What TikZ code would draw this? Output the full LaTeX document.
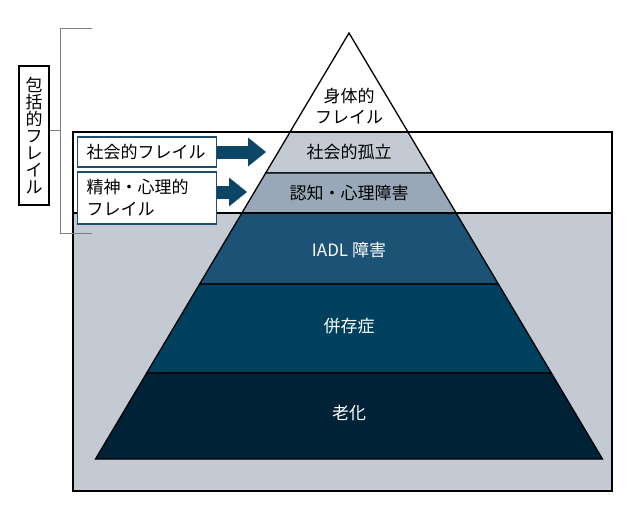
\documentclass[tikz,border=0pt]{standalone}
\usepackage{fontspec}
\setmainfont{Noto Sans CJK JP}
\usetikzlibrary{arrows.meta,positioning,calc}

\definecolor{bggray}{HTML}{C3CAD3}
\definecolor{cogngray}{HTML}{98A8B8}
\definecolor{iadlblue}{HTML}{1B5276}
\definecolor{comorbblue}{HTML}{00405F}
\definecolor{agingnavy}{HTML}{002236}
\definecolor{boxteal}{HTML}{1F4E6B}
\definecolor{arrowteal}{HTML}{0B4666}

\tikzset{
    jp/.style={font=\fontsize{17}{20}\selectfont},
    band/.style={draw=black, line width=1.3pt},
    frailbox/.style={jp, draw=boxteal, line width=1.5pt, fill=white, inner xsep=9pt,
        text width=121pt, align=left, minimum height=#1},
    bigarrow/.style={arrowteal, line width=13pt,
        -{Triangle[length=18pt, width=29pt, line width=0pt]}},
    bracket/.style={draw=gray, line width=0.8pt}
}

\begin{document}
\begin{tikzpicture}[x=1pt, y=-1pt]
    \useasboundingbox (0,0) rectangle (640,506);

    % Background frame
    \fill[white] (73,132) rectangle (612,213);
    \fill[bggray] (73,213) rectangle (612,491);

    % Pyramid (apex at 349/33, half width grows by 0.595 per unit)
    \filldraw[band, fill=white] (349,33) -- (290,132) -- (408,132) -- cycle;
    \foreach \ya/\yb/\col in {132/173/bggray, 173/213/cogngray, 213/284/iadlblue,
                              284/373/comorbblue, 373/459/agingnavy} {
        \pgfmathsetmacro{\xa}{0.595*(\ya-33)}
        \pgfmathsetmacro{\xb}{0.595*(\yb-33)}
        \filldraw[band, fill=\col] (349-\xa,\ya) -- (349+\xa,\ya)
            -- (349+\xb,\yb) -- (349-\xb,\yb) -- cycle;
    }

    % Band labels
    \node[jp, align=center, font=\fontsize{17}{21}\selectfont] (body) at (349,106)
        {身体的\\フレイル};
    \node[jp] (social) at (349,152) {社会的孤立};
    \node[jp] (cogn) at (349,193) {認知・心理障害};
    \node[jp, white] (iadl) at (349,250) {IADL 障害};
    \node[jp, white] (comorb) at (349,326) {併存症};
    \node[jp, white] (aging) at (349,413) {老化};

    % Frame outline
    \draw[line width=1.3pt] (73,132) rectangle (612,491);
    \draw[line width=1.3pt] (73,213) -- (612,213);

    % Frailty boxes and arrows
    \node[frailbox=30pt] (socbox) at (147,152) {社会的フレイル};
    \node[frailbox=52pt, font=\fontsize{17}{22}\selectfont] (mindbox) at (147,198)
        {精神・心理的\\フレイル};
    \coordinate (soctip) at (266,152);
    \coordinate (mindtip) at (247,192);
    \draw[bigarrow] (socbox.east) -- (soctip);
    \draw[bigarrow] (mindbox.east |- mindtip) -- (mindtip);

    % Bracket and overall label
    \node[jp, draw, line width=2pt, align=center, inner sep=0pt,
        minimum width=30pt, minimum height=139pt,
        font=\fontsize{17}{17}\selectfont] (overall) at (34,135.5)
        {包\\括\\的\\フ\\レ\\イ\\ル};
    \coordinate (brtop) at (60,28);
    \coordinate (brmid) at (60,130);
    \coordinate (brbot) at (60,233);
    \draw[bracket] ($(brtop)+(32,0)$) -- (brtop) -- (brbot) -- ($(brbot)+(32,0)$);
    \draw[bracket] (overall.east |- brmid) -- (brmid);
\end{tikzpicture}
\end{document}
